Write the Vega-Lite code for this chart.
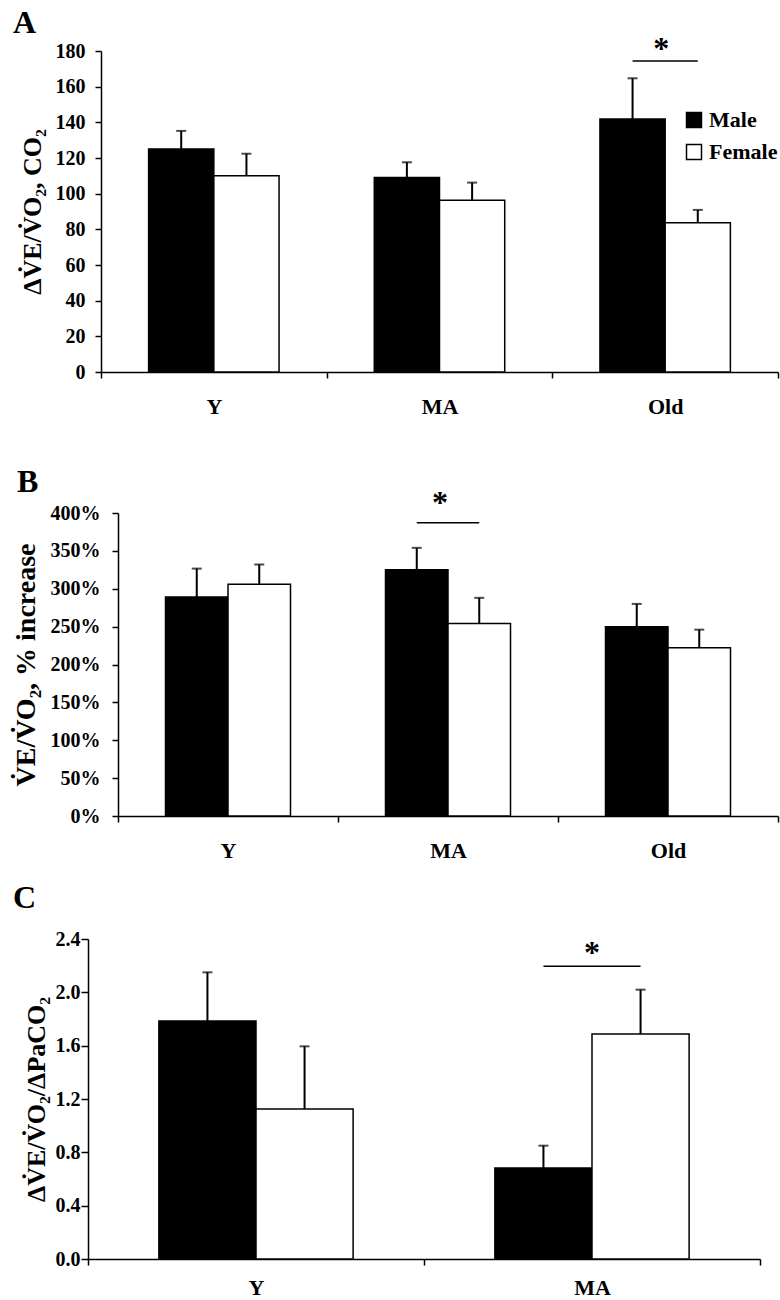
{
  "$schema": "https://vega.github.io/schema/vega-lite/v6.json",
  "padding": {"left": 0, "top": 6, "right": 2, "bottom": 2},
  "config": {
    "font": "Liberation Serif",
    "view": {"stroke": null},
    "axis": {"domainColor": "black", "domainWidth": 1.5, "tickColor": "black", "tickWidth": 1.5, "labelColor": "black", "titleColor": "black", "labelFont": "Liberation Serif", "titleFont": "Liberation Serif", "labelFontWeight": "bold", "titleFontWeight": "bold", "grid": false, "labelOverlap": false},
    "title": {"font": "Liberation Serif", "fontSize": 32, "fontWeight": "bold", "anchor": "start", "color": "black", "frame": "group"}
  },
  "datasets": {
    "A": [
      {"group": "Y", "sex": "Male", "value": 125, "upper": 135.2},
      {"group": "Y", "sex": "Female", "value": 110, "upper": 122.4},
      {"group": "MA", "sex": "Male", "value": 109, "upper": 117.6},
      {"group": "MA", "sex": "Female", "value": 96.3, "upper": 106.2},
      {"group": "Old", "sex": "Male", "value": 141.9, "upper": 164.7},
      {"group": "Old", "sex": "Female", "value": 83.7, "upper": 90.9}
    ],
    "Asig": [
      {"group": "Old", "sex": "Male", "y": 174.4},
      {"group": "Old", "sex": "Female", "y": 174.4}
    ],
    "Aast": [{"group": "Old", "y": 184, "mark": "*"}],
    "B": [
      {"group": "Y", "sex": "Male", "value": 289, "upper": 326.6},
      {"group": "Y", "sex": "Female", "value": 306, "upper": 332},
      {"group": "MA", "sex": "Male", "value": 325, "upper": 354},
      {"group": "MA", "sex": "Female", "value": 254, "upper": 288},
      {"group": "Old", "sex": "Male", "value": 250, "upper": 280},
      {"group": "Old", "sex": "Female", "value": 222, "upper": 246}
    ],
    "Bsig": [
      {"group": "MA", "sex": "Male", "y": 387},
      {"group": "MA", "sex": "Female", "y": 387}
    ],
    "Bast": [{"group": "MA", "y": 420, "mark": "*"}],
    "C": [
      {"group": "Y", "sex": "Male", "value": 1.785, "upper": 2.15},
      {"group": "Y", "sex": "Female", "value": 1.125, "upper": 1.595},
      {"group": "MA", "sex": "Male", "value": 0.683, "upper": 0.85},
      {"group": "MA", "sex": "Female", "value": 1.688, "upper": 2.02}
    ],
    "Csig": [
      {"group": "MA", "sex": "Male", "y": 2.195},
      {"group": "MA", "sex": "Female", "y": 2.195}
    ],
    "Cast": [{"group": "MA", "y": 2.33, "mark": "*"}],
    "empty": []
  },
  "concat": [
    {
      "concat": [
        {
          "hconcat": [
            {"width": 1, "height": 1, "data": {"name": "empty"}, "mark": {"type": "point", "opacity": 0}},
            {
              "title": {"text": "A", "dx": -88, "offset": -7},
              "width": 677,
              "height": 321,
              "layer": [
                {
                  "data": {"name": "A"},
                  "mark": {"type": "bar", "stroke": "black", "strokeWidth": 1.5},
                  "encoding": {
                    "x": {"field": "group", "type": "nominal", "sort": ["Y", "MA", "Old"], "scale": {"paddingInner": 0, "paddingOuter": 0}, "axis": {"title": null, "tickBand": "extent", "labelAngle": 0, "labelFontSize": 22, "labelPadding": 18, "tickSize": 6}},
                    "xOffset": {"field": "sex", "type": "nominal", "sort": ["Male", "Female"], "scale": {"paddingInner": 0, "paddingOuter": 0.73}},
                    "y": {"field": "value", "type": "quantitative", "scale": {"domain": [0, 180]}, "axis": {"values": [0, 20, 40, 60, 80, 100, 120, 140, 160, 180], "tickCount": 20, "labelOverlap": false, "title": "ΔV̇E/V̇O₂, CO₂", "titleFontSize": 26, "labelFontSize": 20, "tickSize": 6, "labelPadding": 10, "titlePadding": 10}},
                    "color": {"field": "sex", "type": "nominal", "sort": ["Male", "Female"], "scale": {"domain": ["Male", "Female"], "range": ["black", "white"]}, "legend": {"orient": "none", "legendX": 683, "legendY": 58, "title": null, "symbolType": "square", "symbolSize": 225, "symbolStrokeColor": "black", "symbolStrokeWidth": 1.5, "labelFontSize": 22, "labelFontWeight": "bold", "labelFont": "Liberation Serif", "labelColor": "black", "rowPadding": 10, "labelOffset": 4}}
                  }
                },
                {
                  "data": {"name": "A"},
                  "mark": {"type": "rule", "color": "black", "strokeWidth": 2},
                  "encoding": {
                    "x": {"field": "group", "type": "nominal", "sort": ["Y", "MA", "Old"]},
                    "xOffset": {"field": "sex", "type": "nominal", "sort": ["Male", "Female"]},
                    "y": {"field": "value", "type": "quantitative"},
                    "y2": {"field": "upper"}
                  }
                },
                {
                  "data": {"name": "A"},
                  "mark": {"type": "tick", "orient": "horizontal", "color": "black", "size": 10, "thickness": 2},
                  "encoding": {
                    "x": {"field": "group", "type": "nominal", "sort": ["Y", "MA", "Old"]},
                    "xOffset": {"field": "sex", "type": "nominal", "sort": ["Male", "Female"]},
                    "y": {"field": "upper", "type": "quantitative"}
                  }
                },
                {
                  "data": {"name": "Asig"},
                  "mark": {"type": "line", "color": "black", "strokeWidth": 1.5},
                  "encoding": {
                    "x": {"field": "group", "type": "nominal", "sort": ["Y", "MA", "Old"]},
                    "xOffset": {"field": "sex", "type": "nominal", "sort": ["Male", "Female"]},
                    "y": {"field": "y", "type": "quantitative"}
                  }
                },
                {
                  "data": {"name": "Aast"},
                  "mark": {"type": "text", "fontSize": 32, "fontWeight": "bold", "font": "Liberation Serif", "baseline": "middle", "color": "black", "dy": 5, "dx": -4},
                  "encoding": {
                    "x": {"field": "group", "type": "nominal", "sort": ["Y", "MA", "Old"]},
                    "y": {"field": "y", "type": "quantitative"},
                    "text": {"field": "mark"}
                  }
                }
              ]
            }
          ],
          "spacing": 12,
          "resolve": {"scale": {"xOffset": "independent"}}
        },
        {
          "hconcat": [
            {"width": 1, "height": 1, "data": {"name": "empty"}, "mark": {"type": "point", "opacity": 0}},
            {
              "title": {"text": "B", "dx": -101, "offset": -12},
              "width": 660,
              "height": 303,
              "layer": [
                {
                  "data": {"name": "B"},
                  "mark": {"type": "bar", "stroke": "black", "strokeWidth": 1.5},
                  "encoding": {
                    "x": {"field": "group", "type": "nominal", "sort": ["Y", "MA", "Old"], "scale": {"paddingInner": 0, "paddingOuter": 0}, "axis": {"title": null, "tickBand": "extent", "labelAngle": 0, "labelFontSize": 22, "labelPadding": 18, "tickSize": 6}},
                    "xOffset": {"field": "sex", "type": "nominal", "sort": ["Male", "Female"], "scale": {"paddingInner": 0, "paddingOuter": 0.76}},
                    "y": {"field": "value", "type": "quantitative", "scale": {"domain": [0, 400]}, "axis": {"values": [0, 50, 100, 150, 200, 250, 300, 350, 400], "tickCount": 20, "labelOverlap": false, "labelExpr": "datum.label + '%'", "title": "V̇E/V̇O₂, % increase", "titleFontSize": 28, "labelFontSize": 20, "tickSize": 6, "labelPadding": 12, "titlePadding": 10}},
                    "color": {"field": "sex", "type": "nominal", "scale": {"domain": ["Male", "Female"], "range": ["black", "white"]}, "legend": null}
                  }
                },
                {
                  "data": {"name": "B"},
                  "mark": {"type": "rule", "color": "black", "strokeWidth": 2},
                  "encoding": {
                    "x": {"field": "group", "type": "nominal", "sort": ["Y", "MA", "Old"]},
                    "xOffset": {"field": "sex", "type": "nominal", "sort": ["Male", "Female"]},
                    "y": {"field": "value", "type": "quantitative"},
                    "y2": {"field": "upper"}
                  }
                },
                {
                  "data": {"name": "B"},
                  "mark": {"type": "tick", "orient": "horizontal", "color": "black", "size": 10, "thickness": 2},
                  "encoding": {
                    "x": {"field": "group", "type": "nominal", "sort": ["Y", "MA", "Old"]},
                    "xOffset": {"field": "sex", "type": "nominal", "sort": ["Male", "Female"]},
                    "y": {"field": "upper", "type": "quantitative"}
                  }
                },
                {
                  "data": {"name": "Bsig"},
                  "mark": {"type": "line", "color": "black", "strokeWidth": 1.5},
                  "encoding": {
                    "x": {"field": "group", "type": "nominal", "sort": ["Y", "MA", "Old"]},
                    "xOffset": {"field": "sex", "type": "nominal", "sort": ["Male", "Female"]},
                    "y": {"field": "y", "type": "quantitative"}
                  }
                },
                {
                  "data": {"name": "Bast"},
                  "mark": {"type": "text", "fontSize": 32, "fontWeight": "bold", "font": "Liberation Serif", "baseline": "middle", "color": "black", "dx": -8, "dy": 5},
                  "encoding": {
                    "x": {"field": "group", "type": "nominal", "sort": ["Y", "MA", "Old"]},
                    "y": {"field": "y", "type": "quantitative"},
                    "text": {"field": "mark"}
                  }
                }
              ]
            }
          ],
          "spacing": 10,
          "resolve": {"scale": {"xOffset": "independent"}}
        }
      ],
      "columns": 1,
      "align": "none",
      "spacing": 48,
      "resolve": {"scale": {"xOffset": "independent"}}
    },
    {
      "hconcat": [
        {"width": 1, "height": 1, "data": {"name": "empty"}, "mark": {"type": "point", "opacity": 0}},
        {
          "title": {"text": "C", "dx": -75, "offset": 14},
          "width": 672,
          "height": 320,
          "layer": [
            {
              "data": {"name": "C"},
              "mark": {"type": "bar", "stroke": "black", "strokeWidth": 1.5},
              "encoding": {
                "x": {"field": "group", "type": "nominal", "sort": ["Y", "MA"], "scale": {"paddingInner": 0, "paddingOuter": 0}, "axis": {"title": null, "tickBand": "extent", "labelAngle": 0, "labelFontSize": 22, "labelPadding": 12, "tickSize": 6}},
                "xOffset": {"field": "sex", "type": "nominal", "sort": ["Male", "Female"], "scale": {"paddingInner": 0, "paddingOuter": 0.73}},
                "y": {"field": "value", "type": "quantitative", "scale": {"domain": [0, 2.4]}, "axis": {"values": [0, 0.4, 0.8, 1.2, 1.6, 2.0, 2.4], "tickCount": 20, "labelOverlap": false, "format": ".1f", "title": "ΔV̇E/V̇O₂/ΔPaCO₂", "titleFontSize": 26, "labelFontSize": 20, "tickSize": 7, "labelPadding": 1, "titlePadding": 6}},
                "color": {"field": "sex", "type": "nominal", "scale": {"domain": ["Male", "Female"], "range": ["black", "white"]}, "legend": null}
              }
            },
            {
              "data": {"name": "C"},
              "mark": {"type": "rule", "color": "black", "strokeWidth": 2},
              "encoding": {
                "x": {"field": "group", "type": "nominal", "sort": ["Y", "MA"]},
                "xOffset": {"field": "sex", "type": "nominal", "sort": ["Male", "Female"]},
                "y": {"field": "value", "type": "quantitative"},
                "y2": {"field": "upper"}
              }
            },
            {
              "data": {"name": "C"},
              "mark": {"type": "tick", "orient": "horizontal", "color": "black", "size": 10, "thickness": 2},
              "encoding": {
                "x": {"field": "group", "type": "nominal", "sort": ["Y", "MA"]},
                "xOffset": {"field": "sex", "type": "nominal", "sort": ["Male", "Female"]},
                "y": {"field": "upper", "type": "quantitative"}
              }
            },
            {
              "data": {"name": "Csig"},
              "mark": {"type": "line", "color": "black", "strokeWidth": 1.5},
              "encoding": {
                "x": {"field": "group", "type": "nominal", "sort": ["Y", "MA"]},
                "xOffset": {"field": "sex", "type": "nominal", "sort": ["Male", "Female"]},
                "y": {"field": "y", "type": "quantitative"}
              }
            },
            {
              "data": {"name": "Cast"},
              "mark": {"type": "text", "fontSize": 32, "fontWeight": "bold", "font": "Liberation Serif", "baseline": "middle", "color": "black", "dy": 5},
              "encoding": {
                "x": {"field": "group", "type": "nominal", "sort": ["Y", "MA"]},
                "y": {"field": "y", "type": "quantitative"},
                "text": {"field": "mark"}
              }
            }
          ]
        }
      ],
      "spacing": 12,
      "resolve": {"scale": {"xOffset": "independent"}}
    }
  ],
  "columns": 1,
  "align": "none",
  "spacing": 21,
  "resolve": {"scale": {"color": "independent", "xOffset": "independent"}, "legend": {"color": "independent"}}
}
